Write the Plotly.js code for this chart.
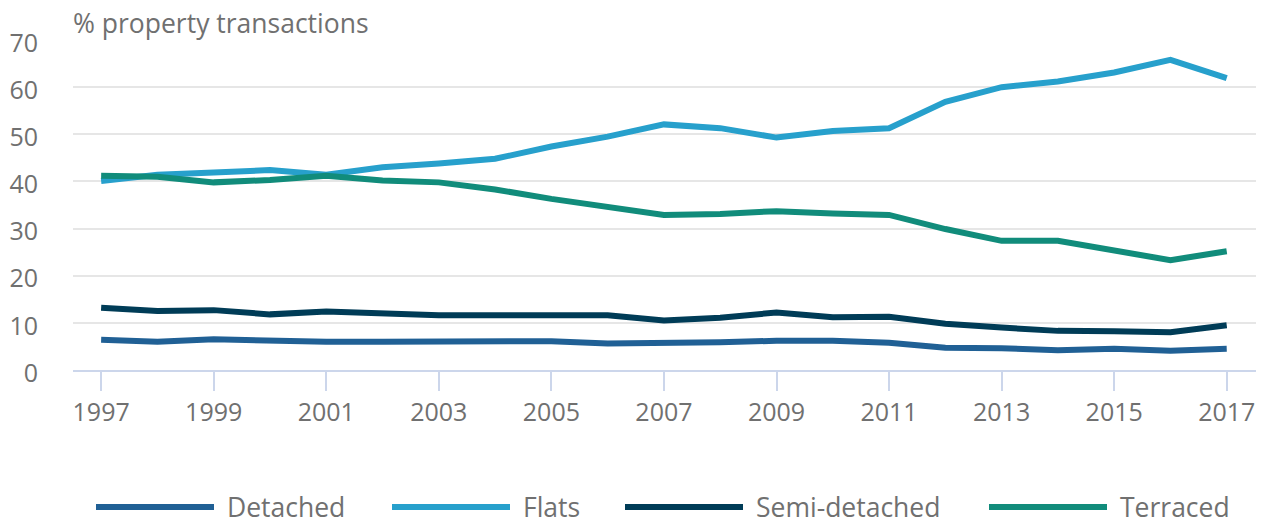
<!DOCTYPE html>
<html>
<head>
<meta charset="utf-8">
<script src="https://cdn.plot.ly/plotly-3.0.1.min.js"></script>
<style>html,body{margin:0;padding:0;background:#fff}#chart{width:1262px;height:524px}</style>
</head>
<body>
<div id="chart"></div>
<script>
const years = [1997,1998,1999,2000,2001,2002,2003,2004,2005,2006,2007,2008,2009,2010,2011,2012,2013,2014,2015,2016,2017];
const detached = [6.4,6.0,6.5,6.2,6.0,6.0,6.0,6.3,6.1,5.6,5.6,5.9,6.2,6.2,5.8,4.7,4.6,4.2,4.5,4.1,4.5];
const flats = [40.1,41.4,41.9,42.4,41.4,43.0,43.8,44.8,47.4,49.5,52.1,51.3,49.3,50.7,51.3,56.9,60.0,61.2,63.1,65.8,61.9];
const semiDetached = [13.2,12.5,12.7,11.8,12.4,12.0,11.6,11.6,11.5,11.6,10.5,11.1,12.2,11.2,11.3,9.8,9.0,8.3,8.2,8.0,9.5];
const terraced = [41.2,41.0,39.8,40.3,41.2,40.2,39.8,38.3,36.3,34.5,32.9,33.1,33.7,33.2,32.9,29.9,27.4,27.4,25.3,23.3,25.2];
const seriesNames = ["Detached","Flats","Semi-detached","Terraced"];
const seriesColors = ["#206095","#27A0CC","#003C57","#118C7B"];
const seriesValues = [detached, flats, semiDetached, terraced];
const yTicks = [0,10,20,30,40,50,60,70];
const xTicks = [1997,1999,2001,2003,2005,2007,2009,2011,2013,2015,2017];
const yTitle = "% property transactions";

const W = 1262, H = 524;
const M = {l:73, r:6, t:40, b:154};
const pw = W - M.l - M.r, ph = H - M.t - M.b;
const font = "'Open Sans', 'Noto Sans', sans-serif";
const grey = "#707070";

const traces = seriesNames.map((n,i)=>({
  x: years, y: seriesValues[i], name: n, type: "scatter", mode: "lines",
  line: {color: seriesColors[i], width: 6}, showlegend: false, hoverinfo: "skip"
}));

// custom legend (long line swatches)
const legStart = [96, 392, 625, 989];
const legLen = 118, legY = 507;
const shapes = [], annotations = [];
seriesNames.forEach((n,i)=>{
  const x0 = (legStart[i]-M.l)/pw, x1 = (legStart[i]+legLen-M.l)/pw;
  const yp = (H - M.b - legY)/ph;
  shapes.push({type:"line", xref:"paper", yref:"paper", x0:x0, x1:x1, y0:yp, y1:yp,
    line:{color:seriesColors[i], width:6}});
  annotations.push({xref:"paper", yref:"paper", x:(legStart[i]+legLen+11-M.l)/pw, y:yp,
    xanchor:"left", yanchor:"middle", yshift:0, text:n, showarrow:false,
    font:{family:font, size:26.5, color:grey}});
});

const layout = {
  width: W, height: H,
  margin: M,
  paper_bgcolor: "#fff", plot_bgcolor: "#fff",
  font: {family: font, size: 25, color: grey},
  title: {text: yTitle, x: M.l/W, xanchor: "left", xref: "container",
          y: 1 - 24/H, yanchor: "middle", yref: "container",
          font: {family: font, size: 26.5, color: grey}},
  showlegend: false,
  xaxis: {
    range: [1996.5, 2017.52], tickvals: xTicks, ticktext: xTicks.map(String),
    showgrid: false, zeroline: false,
    showline: true, linecolor: "#ccd6eb", linewidth: 2,
    ticks: "outside", ticklen: 19, tickwidth: 2, tickcolor: "#ccd6eb",
    ticklabelstandoff: 0,
    tickfont: {family: font, size: 25, color: grey}, fixedrange: true
  },
  yaxis: {
    range: [0, 70], tickvals: yTicks, ticktext: yTicks.map(String),
    showgrid: true, gridcolor: "#e6e6e6", gridwidth: 2,
    zeroline: false, showline: false, ticks: "", ticklabelstandoff: 34,
    ticklabelshift: 3,
    tickfont: {family: font, size: 25, color: grey}, fixedrange: true
  },
  shapes: shapes, annotations: annotations
};

Plotly.newPlot("chart", traces, layout, {displayModeBar: false, staticPlot: true});
</script>
</body>
</html>
